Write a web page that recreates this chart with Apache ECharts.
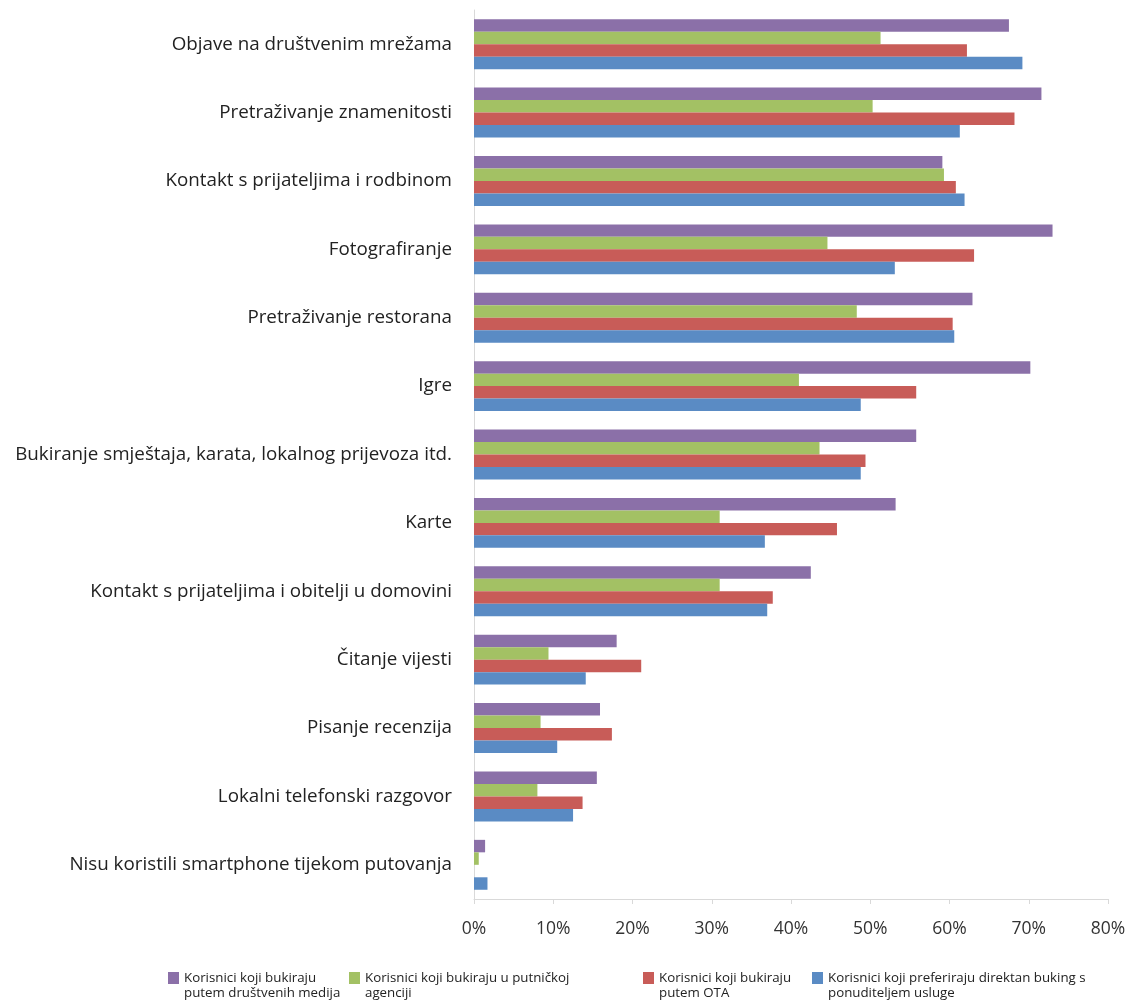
<!DOCTYPE html>
<html>
<head>
<meta charset="utf-8">
<script src="https://cdn.jsdelivr.net/npm/echarts@6/dist/echarts.min.js"></script>
<style>
html,body{margin:0;padding:0;background:#fff;}
#chart{width:1130px;height:1003px;}
</style>
</head>
<body>
<div id="chart"></div>
<script>
const categories = [
  "Objave na društvenim mrežama",
  "Pretraživanje znamenitosti",
  "Kontakt s prijateljima i rodbinom",
  "Fotografiranje",
  "Pretraživanje restorana",
  "Igre",
  "Bukiranje smještaja, karata, lokalnog prijevoza itd.",
  "Karte",
  "Kontakt s prijateljima i obitelji u domovini",
  "Čitanje vijesti",
  "Pisanje recenzija",
  "Lokalni telefonski razgovor",
  "Nisu koristili smartphone tijekom putovanja"
];
const seriesNames = [
  "Korisnici koji bukiraju\nputem društvenih medija",
  "Korisnici koji bukiraju u putničkoj\nagenciji",
  "Korisnici koji bukiraju\nputem OTA",
  "Korisnici koji preferiraju direktan buking s\nponuditeljem usluge"
];
const socialMedia = [67.5, 71.6, 59.1, 73.0, 62.9, 70.2, 55.8, 53.2, 42.5, 18.0, 15.9, 15.5, 1.4];
const travelAgency = [51.3, 50.3, 59.3, 44.6, 48.3, 41.0, 43.6, 31.0, 31.0, 9.4, 8.4, 8.0, 0.6];
const ota = [62.2, 68.2, 60.8, 63.1, 60.4, 55.8, 49.4, 45.8, 37.7, 21.1, 17.4, 13.7, 0];
const direct = [69.2, 61.3, 61.9, 53.1, 60.6, 48.8, 48.8, 36.7, 37.0, 14.1, 10.5, 12.5, 1.7];
const xTicks = [0, 10, 20, 30, 40, 50, 60, 70, 80];

const colors = ['#8B70A8', '#A3C164', '#C85C58', '#5A8BC4'];
const values = [socialMedia, travelAgency, ota, direct];
const legendLeft = [168, 349, 643, 812];

const chart = echarts.init(document.getElementById('chart'));
const legends = seriesNames.map((n, i) => ({
  data: [n],
  left: legendLeft[i],
  top: 955.5,
  padding: 0,
  icon: 'rect',
  itemWidth: 11,
  itemHeight: 12,
  itemGap: 2,
  selectedMode: false,
  formatter: name => '\n' + name,
  textStyle: {
    fontFamily: '"Liberation Sans Narrow", "Open Sans", sans-serif',
    fontSize: 13.3,
    color: '#222',
    lineHeight: 15
  }
}));

chart.setOption({
  animation: false,
  color: colors,
  grid: { left: 474, right: 22, top: 10, bottom: 104, containLabel: false },
  legend: legends,
  xAxis: {
    type: 'value',
    min: xTicks[0],
    max: xTicks[xTicks.length - 1],
    interval: 10,
    axisLine: { show: true, lineStyle: { color: '#d9d9d9', width: 1 } },
    axisTick: { show: true, length: 5, lineStyle: { color: '#d9d9d9' } },
    splitLine: { show: false },
    axisLabel: {
      margin: 21,
      fontSize: 17.5,
      color: '#333',
      fontFamily: '"Open Sans", sans-serif',
      formatter: v => v + '%'
    }
  },
  yAxis: {
    type: 'category',
    inverse: true,
    data: categories,
    axisLine: { show: true, lineStyle: { color: '#d9d9d9', width: 1 } },
    axisTick: { show: false },
    axisLabel: {
      margin: 22,
      fontSize: 18.8,
      color: '#222',
      fontFamily: '"Open Sans", sans-serif'
    }
  },
  series: seriesNames.map((n, i) => ({
    name: n,
    type: 'bar',
    data: values[i],
    barGap: '0%',
    barCategoryGap: '27%',
    itemStyle: { color: colors[i] }
  }))
});
</script>
</body>
</html>
